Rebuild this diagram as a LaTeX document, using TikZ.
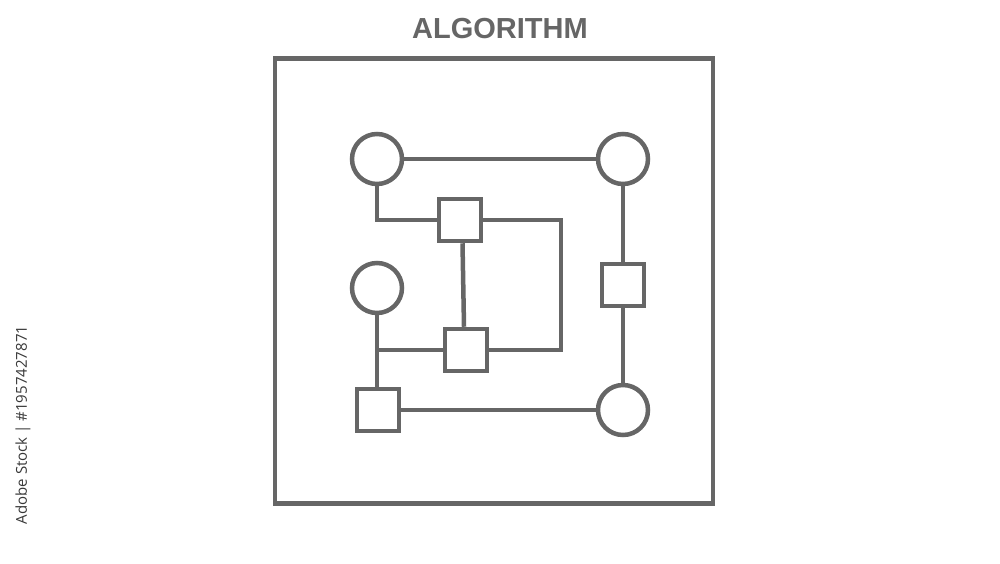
\documentclass[tikz,border=0pt]{standalone}
\usepackage{fontspec}
\usetikzlibrary{calc}
\setmainfont{Liberation Sans}
\newfontfamily\wmfont{Open Sans}
\definecolor{ink}{HTML}{666666}
\definecolor{wm}{HTML}{383838}
\begin{document}
\begin{tikzpicture}[x=1pt,y=-1pt,
  wire/.style={draw=ink,line width=4.5pt},
  nodecirc/.style={circle,draw=ink,line width=4.5pt,minimum size=50pt,inner sep=0pt},
  nodesq/.style={rectangle,draw=ink,line width=4.5pt,minimum size=42pt,inner sep=0pt}]
\useasboundingbox (0,0) rectangle (1000,563);
\node[font=\bfseries\fontsize{29}{30}\selectfont,text=ink] (title) at (500,29) {ALGORITHM};
\node[draw=ink,line width=4.5pt,minimum width=438pt,minimum height=445pt,inner sep=0pt] (frame) at (494,281) {};
\node[font=\wmfont\fontsize{15}{16}\selectfont,text=wm,rotate=90] (stock) at (23,425) {Adobe Stock | \#1957427871};
% nodes
\node[nodecirc] (c1) at (377,159) {};
\node[nodecirc] (c2) at (623,159) {};
\node[nodecirc] (c3) at (377,288) {};
\node[nodecirc] (c4) at (623,410) {};
\node[nodesq] (sA) at (460,220) {};
\node[nodesq] (sB) at (466,350) {};
\node[nodesq] (sR) at (623,285) {};
\node[nodesq] (sL) at (378,410) {};
\coordinate (k) at (561,220);
% connectors
\draw[wire] (c1.east) -- (c2.west);
\draw[wire] (c2.south) -- (sR.north);
\draw[wire] (sR.south) -- (c4.north);
\draw[wire] (sL.east) -- (c4.west);
\draw[wire] (c1.south) |- (sA.west);
\draw[wire] (sA.east) -- (k) |- (sB.east);
\draw[wire] ($(sA.south)+(2.5,0)$) -- ($(sB.north)+(-2,0)$);
\draw[wire] (c3.south) -- (c3.south |- sL.north);
\draw[wire] (c3.south |- sB.west) -- (sB.west);
\end{tikzpicture}
\end{document}
